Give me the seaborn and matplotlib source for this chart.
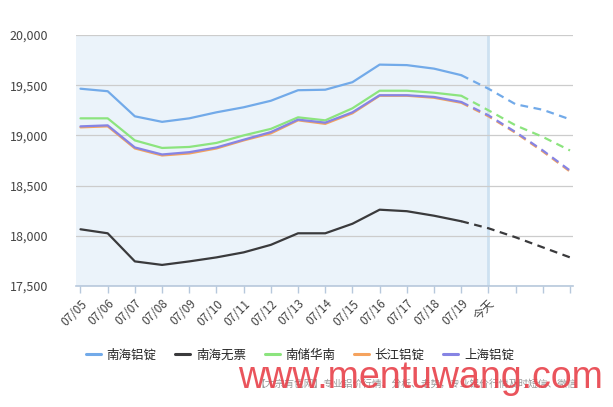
import numpy as np
import pandas as pd
import seaborn as sns
import matplotlib.pyplot as plt
from matplotlib.lines import Line2D

# dates on x axis; last three forecast points have no label
dates = ["07/05", "07/06", "07/07", "07/08", "07/09", "07/10", "07/11", "07/12",
         "07/13", "07/14", "07/15", "07/16", "07/17", "07/18", "07/19", "今天", "", "", ""]

nanhai_dingzi = [19465, 19440, 19190, 19135, 19170, 19230, 19280, 19345, 19450, 19455,
                 19530, 19705, 19700, 19665, 19600, 19465, 19310, 19255, 19160]
nanhai_wupiao = [18065, 18025, 17745, 17710, 17745, 17785, 17835, 17910, 18025, 18025,
                 18120, 18260, 18245, 18200, 18145, 18075, 17985, 17885, 17785]
nanchu_huanan = [19170, 19170, 18950, 18875, 18885, 18925, 19000, 19065, 19180, 19150,
                 19270, 19445, 19445, 19425, 19395, 19250, 19100, 18985, 18850]
changjiang = [19080, 19090, 18870, 18800, 18820, 18870, 18950, 19020, 19150, 19115,
              19220, 19395, 19395, 19375, 19325, 19190, 19025, 18840, 18640]
shanghai = [19090, 19100, 18880, 18810, 18833, 18880, 18957, 19033, 19157, 19127,
            19230, 19400, 19400, 19383, 19333, 19200, 19033, 18850, 18650]

names = ["南海铝锭", "南海无票", "南储华南", "长江铝锭", "上海铝锭"]
series = [nanhai_dingzi, nanhai_wupiao, nanchu_huanan, changjiang, shanghai]
colors = ["#72aae9", "#3a3a3c", "#8ce47e", "#f5a35e", "#8684e4"]

today_idx = 15
last_real = 14  # solid up to 07/19, dashed after

sns.set_theme(style="white")
plt.rcParams['font.family'] = ['Noto Sans CJK SC', 'DejaVu Sans']

fig = plt.figure(figsize=(6.13, 4.07), dpi=100)
ax = fig.add_axes([76 / 613, 1 - 286 / 407, (573 - 76) / 613, (286 - 35) / 407])

x_left, x_right = -0.165, 18.11
ax.axvspan(x_left, today_idx, color="#ebf3fa", zorder=0, lw=0)
ax.axvline(today_idx, color="#cde1f1", lw=2, zorder=1)

for yv in range(17500, 20001, 500):
    ax.axhline(yv, color="#cccccc", lw=0.9, zorder=1)

idx = np.arange(len(dates))
for name, vals, col in zip(names, series, colors):
    df = pd.DataFrame({"x": idx, "y": vals})
    sns.lineplot(data=df[df.x <= last_real], x="x", y="y", color=col, lw=1.6,
                 ax=ax, zorder=3, legend=False)
    sns.lineplot(data=df[df.x >= last_real], x="x", y="y", color=col, lw=1.6,
                 ax=ax, zorder=3, legend=False)
    ax.lines[-1].set_linestyle((0, (3.5, 2.5)))

ax.set_xlim(x_left, x_right)
ax.set_ylim(17500, 20000)
ax.set_xticks(idx)
ax.set_xticklabels(dates, rotation=45, ha="right", va="top", rotation_mode="anchor",
                   fontsize=8.5, color="#444444")
ax.set_yticks(range(17500, 20001, 500))
ax.set_yticklabels([f"{v:,}" for v in range(17500, 20001, 500)], fontsize=9, color="#444444")
ax.set_xlabel("")
ax.set_ylabel("")
for side in ["top", "right", "left"]:
    ax.spines[side].set_visible(False)
ax.spines["bottom"].set_color("#b7c8dc")
ax.spines["bottom"].set_linewidth(1.2)
ax.tick_params(axis="x", bottom=True, length=5, color="#b7c8dc", width=1, pad=3)
ax.tick_params(axis="y", left=False, pad=14)

handles = [Line2D([0], [0], color=c, lw=2.2) for c in colors]
fig.legend(handles, names, loc="center", bbox_to_anchor=(300 / 613, 1 - 355 / 407), ncol=5,
           frameon=False, fontsize=9, handlelength=1.2, handletextpad=0.45,
           columnspacing=1.5)

# footer line and watermark text as seen on the picture
fig.text(255 / 613, 1 - 384 / 407, "【大宗有色网】专业铝价行情、分析、走势，专业铝价行情及时短信、微信",
         fontsize=7, color="#999999", va="center", ha="left")
fig.text(603 / 613, 1 - 378 / 407, "www.mentuwang.com", fontsize=27, color="#e8414a",
         va="center", ha="right", family=["Liberation Sans", "DejaVu Sans"], alpha=0.9)

fig.savefig("out.png", dpi=100)
